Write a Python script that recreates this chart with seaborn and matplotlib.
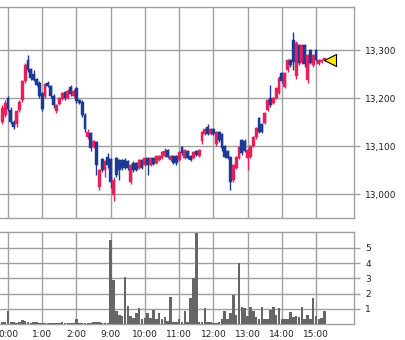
import matplotlib
matplotlib.use("Agg")
import matplotlib.pyplot as plt
import seaborn as sns
import pandas as pd

# ---- data (5-minute candles, slot index; hour marks every 12 slots) ----
slots = list(range(-2, 112))
opens = [13150, 13165, 13200, 13175, 13150, 13145, 13175, 13195, 13235, 13280,
         13260, 13250, 13240, 13232, 13210, 13205, 13232, 13225, 13205, 13172,
         13188, 13198, 13212, 13200, 13222, 13205, 13220, 13196, 13192, 13165,
         13118, 13128, 13098, 13108, 13015, 13072, 13050, 13078, 13072, 12998,
         13075, 13070, 13070, 13070, 13068, 13025, 13065, 13065, 13055, 13070,
         13060, 13075, 13060, 13075, 13065, 13070, 13075, 13080, 13092, 13070,
         13080, 13080, 13070, 13098, 13075, 13090, 13080, 13075, 13090, 13080,
         13110, 13125, 13140, 13125, 13135, 13105, 13130, 13125, 13100, 13090,
         13078, 13030, 13055, 13075, 13112, 13110, 13075, 13078, 13100, 13118,
         13158, 13145, 13148, 13175, 13200, 13190, 13200, 13210, 13252, 13222,
         13258, 13280, 13320, 13245, 13310, 13272, 13310, 13238, 13300, 13268,
         13300, 13270, 13275, 13280]
closes = [13180, 13190, 13178, 13150, 13140, 13172, 13192, 13235, 13268, 13258,
          13242, 13238, 13228, 13205, 13178, 13230, 13225, 13205, 13185, 13185,
          13200, 13210, 13200, 13215, 13208, 13215, 13194, 13190, 13165, 13135,
          13130, 13095, 13110, 13060, 13050, 13050, 13068, 13060, 13025, 13030,
          13040, 13050, 13055, 13055, 13055, 13060, 13050, 13050, 13070, 13055,
          13075, 13060, 13075, 13062, 13080, 13080, 13088, 13090, 13078, 13080,
          13065, 13065, 13088, 13085, 13092, 13075, 13070, 13088, 13082, 13092,
          13130, 13135, 13125, 13135, 13125, 13130, 13112, 13095, 13078, 13075,
          13025, 13060, 13078, 13098, 13085, 13090, 13092, 13100, 13118, 13138,
          13130, 13130, 13168, 13195, 13185, 13200, 13220, 13242, 13235, 13252,
          13280, 13268, 13275, 13315, 13272, 13310, 13270, 13290, 13273, 13290,
          13280, 13280, 13280, 13282]
highs = [13185, 13195, 13205, 13182, 13155, 13175, 13195, 13238, 13272, 13290,
         13262, 13258, 13242, 13235, 13212, 13232, 13235, 13228, 13208, 13188,
         13202, 13212, 13215, 13218, 13228, 13218, 13222, 13198, 13195, 13168,
         13135, 13130, 13112, 13110, 13052, 13075, 13070, 13085, 13075, 13035,
         13078, 13072, 13072, 13074, 13070, 13062, 13068, 13067, 13072, 13072,
         13078, 13078, 13078, 13077, 13082, 13082, 13090, 13096, 13094, 13082,
         13082, 13082, 13090, 13100, 13094, 13092, 13082, 13090, 13092, 13094,
         13132, 13138, 13146, 13138, 13138, 13132, 13132, 13128, 13102, 13092,
         13080, 13062, 13080, 13100, 13115, 13115, 13095, 13102, 13120, 13140,
         13160, 13148, 13170, 13198, 13228, 13202, 13222, 13245, 13255, 13255,
         13282, 13282, 13338, 13318, 13312, 13312, 13312, 13292, 13302, 13292,
         13302, 13282, 13282, 13284]
lows = [13145, 13160, 13172, 13145, 13135, 13140, 13170, 13192, 13232, 13255,
        13238, 13235, 13225, 13200, 13172, 13200, 13222, 13200, 13180, 13168,
        13185, 13195, 13196, 13198, 13205, 13202, 13190, 13188, 13160, 13130,
        13115, 13090, 13095, 13040, 13008, 13045, 13035, 13055, 13012, 12985,
        13035, 13030, 13050, 13052, 13050, 13020, 13045, 13048, 13052, 13052,
        13058, 13040, 13058, 13060, 13062, 13068, 13072, 13078, 13075, 13068,
        13062, 13060, 13068, 13082, 13072, 13072, 13068, 13072, 13080, 13078,
        13105, 13122, 13122, 13122, 13122, 13100, 13108, 13090, 13075, 13072,
        13008, 13025, 13052, 13072, 13082, 13088, 13050, 13075, 13098, 13115,
        13128, 13128, 13145, 13172, 13182, 13188, 13198, 13208, 13232, 13220,
        13255, 13265, 13258, 13240, 13268, 13270, 13265, 13232, 13270, 13265,
        13278, 13268, 13272, 13278]
volumes = [0.1, 0.15, 0.85, 0.1, 0.1, 0.05, 0.15, 0.25, 0.2, 0.1,
           0.05, 0.15, 0.15, 0.05, 0.05,
           0.05, 0.05, 0.05, 0.05, 0.05, 0.05, 0.15, 0.05, 0.05, 0.05,
           0.05, 0.3, 0.05, 0.05, 0.05, 0.05, 0.05, 0.15, 0.15, 0.15,
           0.05, 0.05, 0.05,
           5.5, 2.9, 0.85, 0.6, 0.55, 3.1, 1.2, 0.5, 0.4, 0.7,
           1.05, 0.3, 0.4, 0.75, 0.4, 0.95, 0.35, 0.7, 0.3, 0.45,
           0.2, 1.8, 0.15, 0.15, 0.35, 0.1, 0.85, 0.1, 1.7, 3.0,
           6.0, 0.15, 0.1, 1.05, 0.1, 0.1, 0.05, 0.05, 0.1, 0.3,
           0.85, 0.3, 0.7, 1.9, 0.6, 4.0, 1.1, 1.05, 0.5, 1.1,
           0.85, 0.45, 0.3, 1.1, 0.3, 0.3, 0.95, 1.15, 0.6, 1.05,
           0.35, 0.3, 0.3, 0.8, 0.45, 0.5, 0.45, 1.15, 0.35, 0.6,
           0.3, 1.7, 0.5, 0.3, 0.4, 0.85]

hour_pos = [0, 12, 24, 36, 48, 60, 72, 84, 96, 108]
hour_labels = ["0:00", "1:00", "2:00", "9:00", "10:00", "11:00",
               "12:00", "13:00", "14:00", "15:00"]
price_ticks = [13000, 13100, 13200, 13300]
price_labels = ["13,000", "13,100", "13,200", "13,300"]
vol_ticks = [1, 2, 3, 4, 5]
vol_labels = ["1", "2", "3", "4", "5"]
last_price = 13280
marker_slot = 112.9

# ---- styling ----
sns.set_style("white")
plt.rcParams['font.family'] = ['DejaVu Sans']

UP = '#E8205A'
DOWN = '#1C3A94'
GRID = '#A0A0A0'
VOL = '#666666'

df = pd.DataFrame({'slot': slots, 'open': opens, 'high': highs,
                   'low': lows, 'close': closes, 'volume': volumes})
df['color'] = [UP if c >= o else DOWN for o, c in zip(df['open'], df['close'])]
df['bottom'] = df[['open', 'close']].min(axis=1)
df['body'] = (df['close'] - df['open']).abs().clip(lower=3)

fig = plt.figure(figsize=(4.05, 3.4), dpi=100)
ax1 = fig.add_axes([0, 1 - 218 / 340, 354 / 405, (218 - 7) / 340])
ax2 = fig.add_axes([0, 1 - 324 / 340, 354 / 405, (324 - 232) / 340])

xlim = (-2.8, 121.3)

# ---- price panel ----
ax1.vlines(df['slot'], df['low'], df['high'], colors=df['color'], linewidth=1.0, zorder=3)
ax1.bar(df['slot'], df['body'], bottom=df['bottom'], width=1.0,
        color=df['color'], edgecolor=df['color'], linewidth=0.3, zorder=4)
ax1.scatter([marker_slot], [last_price], marker='<', s=75, color='#FFE600',
            edgecolor='black', linewidth=0.8, zorder=6, clip_on=False)
ax1.set_xlim(*xlim)
ax1.set_ylim(12950, 13389.6)
ax1.set_xticks(hour_pos)
ax1.set_xticklabels([])
ax1.set_yticks(price_ticks)
ax1.set_yticklabels(price_labels)
ax1.yaxis.tick_right()
ax1.tick_params(axis='y', length=4, width=1, color=GRID, labelsize=6.5, pad=4,
                labelcolor='#222222')
ax1.tick_params(axis='x', length=0)
ax1.grid(True, color=GRID, linewidth=1)
ax1.set_axisbelow(True)
for side in ['top', 'right', 'bottom']:
    ax1.spines[side].set_color(GRID)
    ax1.spines[side].set_linewidth(1)
ax1.spines['left'].set_visible(False)
ax1.set_xlabel('')
ax1.set_ylabel('')

# ---- volume panel ----
sns.barplot(data=df, x='slot', y='volume', native_scale=True, color=VOL,
            saturation=1, width=0.9, errorbar=None, linewidth=0, ax=ax2, zorder=3)
ax2.set_xlim(*xlim)
ax2.set_ylim(0, 6.05)
ax2.set_xticks(hour_pos)
ax2.set_xticklabels(hour_labels)
ax2.set_yticks(vol_ticks)
ax2.set_yticklabels(vol_labels)
ax2.yaxis.tick_right()
ax2.tick_params(axis='y', length=4, width=1, color=GRID, labelsize=6.5, pad=4,
                labelcolor='#222222')
ax2.tick_params(axis='x', length=0, labelsize=6.5, pad=4, labelcolor='#222222')
ax2.grid(True, color=GRID, linewidth=1)
ax2.set_axisbelow(True)
for side in ['top', 'right', 'bottom']:
    ax2.spines[side].set_color(GRID)
    ax2.spines[side].set_linewidth(1)
ax2.spines['left'].set_visible(False)
ax2.set_xlabel('')
ax2.set_ylabel('')

fig.savefig('out.png', dpi=100)
